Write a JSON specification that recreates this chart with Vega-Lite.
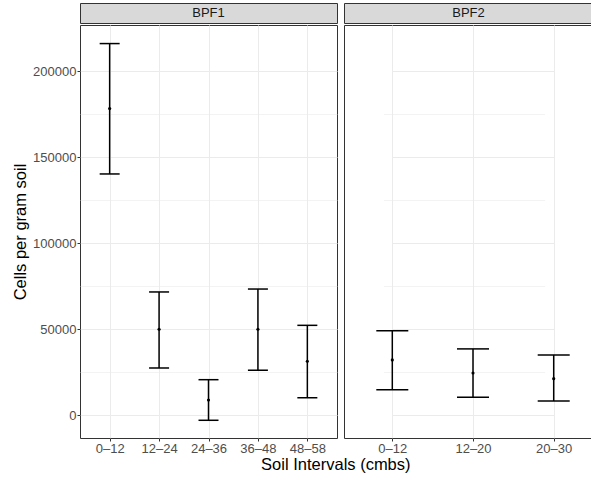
{
  "$schema": "https://vega.github.io/schema/vega-lite/v6.json",
  "padding": {"left": 12, "top": 2, "right": 0, "bottom": 6},
  "background": "white",
  "config": {
    "font": "Liberation Sans",
    "axis": {"labelFont": "Liberation Sans", "titleFont": "Liberation Sans"},
    "concat": {"spacing": 5}
  },
  "title": {
    "text": "Soil Intervals (cmbs)",
    "orient": "bottom",
    "anchor": "middle",
    "frame": "bounds",
    "fontSize": 16.5,
    "fontWeight": "normal",
    "color": "#000000",
    "font": "Liberation Sans",
    "offset": 1,
    "dx": 33
  },
  "data": {
    "values": [
      {"site": "BPF1", "interval": "0–12", "mean": 178400, "lower": 140400, "upper": 216200},
      {"site": "BPF1", "interval": "12–24", "mean": 50100, "lower": 27600, "upper": 71800},
      {"site": "BPF1", "interval": "24–36", "mean": 9000, "lower": -2800, "upper": 20800},
      {"site": "BPF1", "interval": "36–48", "mean": 50100, "lower": 26300, "upper": 73500},
      {"site": "BPF1", "interval": "48–58", "mean": 31500, "lower": 10300, "upper": 52400},
      {"site": "BPF2", "interval": "0–12", "mean": 32300, "lower": 15000, "upper": 49300},
      {"site": "BPF2", "interval": "12–20", "mean": 24700, "lower": 10600, "upper": 38700},
      {"site": "BPF2", "interval": "20–30", "mean": 21400, "lower": 8400, "upper": 35200}
    ]
  },
  "spacing": 5,
  "hconcat": [
    {
      "spacing": 0,
      "vconcat": [
        {
          "width": 257,
          "height": 20,
          "view": {"fill": "#d9d9d9", "stroke": "#333333", "strokeWidth": 1},
          "transform": [
            {"filter": "datum.site === 'BPF1'"},
            {"aggregate": [{"op": "count", "as": "n"}], "groupby": ["site"]}
          ],
          "mark": {"type": "text", "fontSize": 13, "color": "#1a1a1a", "align": "center", "baseline": "middle"},
          "encoding": {"text": {"field": "site"}}
        },
        {
          "width": 257,
          "height": 413,
          "view": {"stroke": "#333333", "strokeWidth": 1},
          "transform": [{"filter": "datum.site === 'BPF1'"}],
          "encoding": {
            "x": {
              "field": "interval",
              "type": "ordinal",
              "sort": ["0–12", "12–24", "24–36", "36–48", "48–58"],
              "scale": {"type": "point", "padding": 0.6},
              "axis": {
                "title": null,
                "labelAngle": 0,
                "labelFontSize": 13,
                "labelColor": "#4d4d4d",
                "labelPadding": 1,
                "tickSize": 3,
                "tickColor": "#333333",
                "domain": false,
                "grid": true,
                "gridColor": "#ebebeb",
                "gridWidth": 1
              }
            }
          },
          "layer": [
            {
              "mark": {"type": "rule", "color": "#000000", "strokeWidth": 1.5},
              "encoding": {
                "y": {
                  "field": "lower",
                  "type": "quantitative",
                  "scale": {"domain": [-13100, 227000], "nice": false, "zero": false},
                  "axis": {
                    "title": "Cells per gram soil",
                    "titleFontSize": 16.5,
                    "titleFontWeight": "normal",
                    "titleColor": "#000000",
                    "titlePadding": 4,
                    "values": [0, 50000, 100000, 150000, 200000],
                    "format": "d",
                    "labelFontSize": 13,
                    "labelColor": "#4d4d4d",
                    "labelPadding": 1,
                    "tickSize": 3,
                    "tickColor": "#333333",
                    "domain": false,
                    "grid": true,
                    "gridColor": "#ebebeb",
                    "gridWidth": 1
                  }
                },
                "y2": {"field": "upper"}
              }
            },
            {
              "mark": {"type": "tick", "color": "#000000", "size": 20, "thickness": 1.5, "opacity": 1},
              "encoding": {
                "y": {
                  "field": "lower",
                  "type": "quantitative",
                  "axis": {
                    "orient": "right",
                    "title": null,
                    "values": [25000, 75000, 125000, 175000],
                    "labels": false,
                    "ticks": false,
                    "domain": false,
                    "grid": true,
                    "gridColor": "#ebebeb",
                    "gridWidth": 0.6
                  }
                }
              }
            },
            {
              "mark": {"type": "tick", "color": "#000000", "size": 20, "thickness": 1.5, "opacity": 1},
              "encoding": {"y": {"field": "upper", "type": "quantitative", "axis": null}}
            },
            {
              "mark": {"type": "point", "filled": true, "color": "#000000", "size": 10, "opacity": 1},
              "encoding": {"y": {"field": "mean", "type": "quantitative", "axis": null}}
            }
          ],
          "resolve": {"axis": {"y": "independent"}}
        }
      ]
    },
    {
      "spacing": 0,
      "vconcat": [
        {
          "width": 249,
          "height": 20,
          "view": {"fill": "#d9d9d9", "stroke": "#333333", "strokeWidth": 1},
          "transform": [
            {"filter": "datum.site === 'BPF2'"},
            {"aggregate": [{"op": "count", "as": "n"}], "groupby": ["site"]}
          ],
          "mark": {"type": "text", "fontSize": 13, "color": "#1a1a1a", "align": "center", "baseline": "middle"},
          "encoding": {"text": {"field": "site"}}
        },
        {
          "width": 249,
          "height": 413,
          "view": {"stroke": "#333333", "strokeWidth": 1},
          "transform": [{"filter": "datum.site === 'BPF2'"}],
          "encoding": {
            "x": {
              "field": "interval",
              "type": "ordinal",
              "sort": ["0–12", "12–20", "20–30"],
              "scale": {"type": "point", "padding": 0, "range": [48.3, 209.7]},
              "axis": {
                "title": null,
                "labelAngle": 0,
                "labelFontSize": 13,
                "labelColor": "#4d4d4d",
                "labelPadding": 1,
                "tickSize": 3,
                "tickColor": "#333333",
                "domain": false,
                "grid": true,
                "gridColor": "#ebebeb",
                "gridWidth": 1
              }
            }
          },
          "layer": [
            {
              "mark": {"type": "rule", "color": "#000000", "strokeWidth": 1.5},
              "encoding": {
                "y": {
                  "field": "lower",
                  "type": "quantitative",
                  "scale": {"domain": [-13100, 227000], "nice": false, "zero": false},
                  "axis": {
                    "title": null,
                    "values": [0, 50000, 100000, 150000, 200000],
                    "labels": false,
                    "ticks": false,
                    "domain": false,
                    "grid": true,
                    "gridColor": "#ebebeb",
                    "gridWidth": 1
                  }
                },
                "y2": {"field": "upper"}
              }
            },
            {
              "mark": {"type": "tick", "color": "#000000", "size": 32, "thickness": 1.5, "opacity": 1},
              "encoding": {
                "y": {
                  "field": "lower",
                  "type": "quantitative",
                  "axis": {
                    "orient": "right",
                    "title": null,
                    "values": [25000, 75000, 125000, 175000],
                    "labels": false,
                    "ticks": false,
                    "domain": false,
                    "grid": true,
                    "gridColor": "#ebebeb",
                    "gridWidth": 0.6
                  }
                }
              }
            },
            {
              "mark": {"type": "tick", "color": "#000000", "size": 32, "thickness": 1.5, "opacity": 1},
              "encoding": {"y": {"field": "upper", "type": "quantitative", "axis": null}}
            },
            {
              "mark": {"type": "point", "filled": true, "color": "#000000", "size": 10, "opacity": 1},
              "encoding": {"y": {"field": "mean", "type": "quantitative", "axis": null}}
            }
          ],
          "resolve": {"axis": {"y": "independent"}}
        }
      ]
    }
  ]
}
